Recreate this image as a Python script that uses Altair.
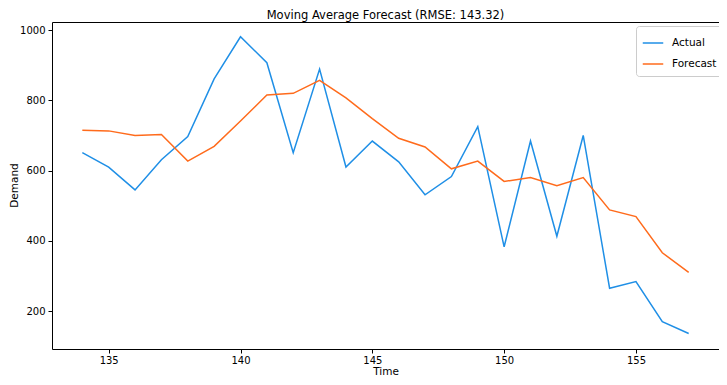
import altair as alt
import pandas as pd

time = list(range(134, 158))
actual = [651, 610, 545, 631, 697, 861, 981, 907, 651, 889, 610, 684,
          625, 531, 583, 725, 383, 684, 413, 700, 265, 284, 170, 136]
forecast = [715, 713, 700, 703, 627, 669, 741, 815, 820, 857, 807, 748,
            692, 667, 605, 627, 569, 580, 557, 580, 488, 469, 366, 310]
series_names = ["Actual", "Forecast"]
series_colors = ["#1f8fe6", "#ff6b1c"]
x_ticks = [135, 140, 145, 150, 155]
y_ticks = [200, 400, 600, 800, 1000]

rows = []
for t, a, f in zip(time, actual, forecast):
    rows.append({"Time": t, "Demand": a, "series": "Actual"})
    rows.append({"Time": t, "Demand": f, "series": "Forecast"})
df = pd.DataFrame(rows)

font = "DejaVu Sans"

chart = alt.Chart(df).mark_line(strokeWidth=1.5).encode(
    x=alt.X("Time:Q",
            scale=alt.Scale(domain=[132.85, 158.15], nice=False, zero=False),
            axis=alt.Axis(values=x_ticks, title="Time", grid=False, format="d",
                          tickSize=4, tickColor="black", domain=False,
                          labelFontSize=10, labelColor="black", labelFont=font,
                          titleFontSize=10.5, titleFontWeight="normal",
                          titleColor="black", titleFont=font,
                          titleY=27, titleBaseline="bottom",
                          labelPadding=2)),
    y=alt.Y("Demand:Q",
            scale=alt.Scale(domain=[92, 1023], nice=False, zero=False),
            axis=alt.Axis(values=y_ticks, title="Demand", grid=False, format="d",
                          tickSize=4, tickColor="black", domain=False,
                          labelFontSize=10, labelColor="black", labelFont=font,
                          titleFontSize=10.5, titleFontWeight="normal",
                          titleColor="black", titleFont=font,
                          titleX=-38, titleY=163, titleBaseline="middle",
                          titleAngle=270, titleAlign="center",
                          labelPadding=3)),
    color=alt.Color("series:N",
                    scale=alt.Scale(domain=series_names, range=series_colors),
                    legend=alt.Legend(title=None, orient="none",
                                      legendX=584, legendY=4,
                                      symbolType="stroke", symbolSize=420,
                                      symbolStrokeWidth=1.5,
                                      labelFontSize=10.5, labelFont=font,
                                      labelColor="black",
                                      fillColor="white", strokeColor="#cccccc",
                                      cornerRadius=3, padding=6,
                                      rowPadding=4, labelOffset=8)),
).properties(
    width=667,
    height=327,
    padding={"left": 44, "top": 14, "right": 0, "bottom": 28},
    autosize=alt.AutoSizeParams(type="none"),
    title=alt.TitleParams("Moving Average Forecast (RMSE: 143.32)",
                          fontSize=11.5, fontWeight="normal", font=font,
                          color="black", anchor="middle", offset=1),
).configure_view(stroke="black", strokeWidth=1)

chart.save("out.html", embed_options={"renderer": "svg", "actions": False})
